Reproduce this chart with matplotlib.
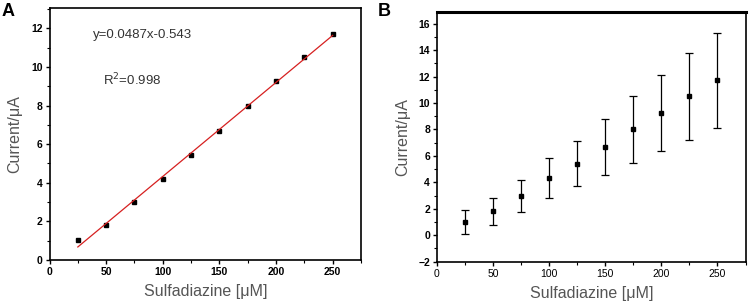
import matplotlib
matplotlib.use("Agg")
import matplotlib.pyplot as plt
import numpy as np
from matplotlib.ticker import MultipleLocator

plt.rcParams["font.family"] = ["Liberation Sans", "DejaVu Sans"]

# ============================================================
# DATA
# ============================================================

conc = [25, 50, 75, 100, 125, 150, 175, 200, 225, 250]

current_a = [1.05, 1.82, 3.0, 4.22, 5.42, 6.7, 7.98, 9.28, 10.52, 11.7]

current_b = [1.0, 1.8, 2.95, 4.3, 5.4, 6.7, 8.0, 9.25, 10.5, 11.7]
err_b = [0.9, 1.0, 1.22, 1.52, 1.7, 2.12, 2.52, 2.87, 3.27, 3.62]

slope = 0.0487
intercept = -0.543

# ============================================================
# FIGURE
# ============================================================

fig = plt.figure(figsize=(7.5, 3.03), dpi=100)

ax_a = fig.add_axes([49.5 / 750, 1 - 260 / 303, (361 - 49.5) / 750, (260 - 8) / 303])
ax_b = fig.add_axes([437 / 750, 1 - 261.7 / 303, (745.5 - 437) / 750, (261.7 - 11.7) / 303])

label_color = "#555555"

# ---------------------------------
# Panel A
# ---------------------------------

ax_a.plot(conc, current_a, "s", color="black", markersize=3.5)

fit_x = np.array([conc[0], conc[-1]])
ax_a.plot(fit_x, slope * fit_x + intercept, color="#d62020", linewidth=0.9)

ax_a.set_xlim(0, 275)
ax_a.set_ylim(0, 13.05)
ax_a.xaxis.set_major_locator(MultipleLocator(50))
ax_a.xaxis.set_minor_locator(MultipleLocator(25))
ax_a.yaxis.set_major_locator(MultipleLocator(2))
ax_a.yaxis.set_minor_locator(MultipleLocator(1))

for lab in ax_a.get_xticklabels() + ax_a.get_yticklabels():
    lab.set_fontweight("bold")

ax_a.text(38.5, 11.65, "y=0.0487x-0.543", fontsize=9.5, color="#333333", va="center")
ax_a.text(47.5, 9.3, "R$^{2}$=0.998", fontsize=9.5, color="#333333", va="center")

ax_a.set_xlabel("Sulfadiazine [μM]", fontsize=11.5, color=label_color, labelpad=5)
ax_a.set_ylabel("Current/μA", fontsize=11.5, color=label_color, labelpad=6)

fig.text(2 / 750, 1 - 12 / 303, "A", fontsize=13, fontweight="bold", va="center")

# ---------------------------------
# Panel B
# ---------------------------------

ax_b.errorbar(
    conc,
    current_b,
    yerr=err_b,
    fmt="s",
    color="black",
    markersize=3.5,
    elinewidth=0.9,
    capsize=3,
    capthick=0.9
)

ax_b.set_xlim(0, 275)
ax_b.set_ylim(-2, 16.9)
ax_b.xaxis.set_major_locator(MultipleLocator(50))
ax_b.xaxis.set_minor_locator(MultipleLocator(25))
ax_b.yaxis.set_major_locator(MultipleLocator(2))
ax_b.yaxis.set_minor_locator(MultipleLocator(1))
ax_b.spines["top"].set_linewidth(2.2)

for lab in ax_b.get_yticklabels():
    lab.set_fontweight("bold")

ax_b.set_xlabel("Sulfadiazine [μM]", fontsize=11.5, color=label_color, labelpad=5)
ax_b.set_ylabel("Current/μA", fontsize=11.5, color=label_color, labelpad=6)

fig.text(378 / 750, 1 - 12 / 303, "B", fontsize=13, fontweight="bold", va="center")

for ax in (ax_a, ax_b):
    ax.tick_params(which="major", direction="out", length=3, width=1, labelsize=7.5, pad=2)
    ax.tick_params(which="minor", direction="out", length=2, width=0.8)
    for side in ("left", "bottom", "right"):
        ax.spines[side].set_linewidth(1.2)
    if ax is ax_a:
        ax.spines["top"].set_linewidth(1.2)

fig.savefig("out.png", dpi=100)
